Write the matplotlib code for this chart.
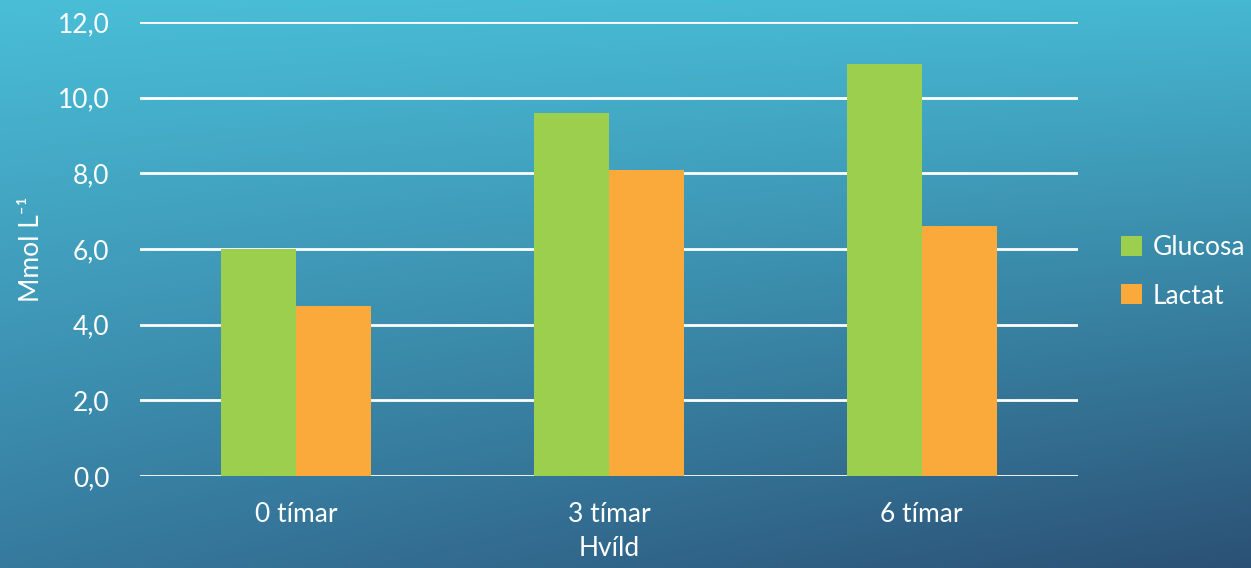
import numpy as np
import matplotlib.pyplot as plt

categories = ['0 tímar', '3 tímar', '6 tímar']
glucosa = [6.0, 9.6, 10.9]
lactat = [4.5, 8.1, 6.6]
yticks = [0, 2, 4, 6, 8, 10, 12]

plt.rcParams['font.family'] = ['Lato', 'DejaVu Sans']

fig = plt.figure(figsize=(12.51, 5.68), dpi=100)

# background gradient, light cyan top-left to dark blue bottom-right
bg = fig.add_axes([0, 0, 1, 1])
h, w = 568, 1251
yy, xx = np.mgrid[0:1:h*1j, 0:1:w*1j]
tl = np.array([74, 190, 215]) / 255
tr = np.array([70, 184, 210]) / 255
bl = np.array([54, 122, 158]) / 255
br = np.array([43, 80, 117]) / 255
img = ((1-xx)[..., None]*(1-yy)[..., None]*tl + xx[..., None]*(1-yy)[..., None]*tr
       + (1-xx)[..., None]*yy[..., None]*bl + xx[..., None]*yy[..., None]*br)
bg.imshow(img, aspect='auto', extent=[0, 1, 0, 1])
bg.axis('off')

ax = fig.add_axes([140/1251, 92/568, 938/1251, 454/568])
ax.patch.set_alpha(0)
x = np.arange(len(categories))
width = 0.24
ax.bar(x - width/2, glucosa, width, color='#9ccf4e', label='Glucosa', zorder=3)
ax.bar(x + width/2, lactat, width, color='#faa93b', label='Lactat', zorder=3)

ax.set_xlim(-0.5, 2.5)
ax.set_ylim(0, 12)
ax.set_yticks(yticks)
ax.set_yticklabels([f'{v:.1f}'.replace('.', ',') for v in yticks])
ax.set_xticks(x)
ax.set_xticklabels(categories)
ax.grid(True, axis='y', color='white', linewidth=2, zorder=0)
ax.tick_params(colors='white', labelsize=19, length=0)
ax.tick_params(axis='y', pad=22)
ax.tick_params(axis='x', pad=19)
for s in ax.spines.values():
    s.set_visible(False)

ax.set_xlabel('Hvíld', color='white', fontsize=19, labelpad=6)
ax.set_ylabel('Mmol L⁻¹', color='white', fontsize=19, labelpad=10)

# legend just right of the plot area
ax.legend(loc='center left', bbox_to_anchor=(1.046, 0.45), frameon=False,
          borderaxespad=0, borderpad=0,
          labelcolor='white', fontsize=19, handlelength=0.8, handleheight=0.8,
          handletextpad=0.4, labelspacing=0.9)

fig.savefig('out.png', dpi=100)
